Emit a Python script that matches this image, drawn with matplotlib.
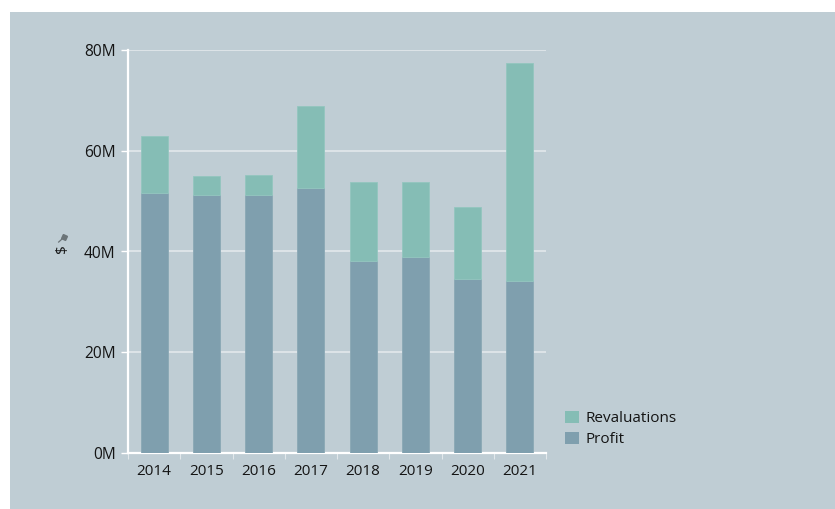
import matplotlib
matplotlib.use("Agg")
import matplotlib.pyplot as plt
from matplotlib.patches import Rectangle, Patch
from matplotlib.ticker import FuncFormatter, MultipleLocator

years = ["2014", "2015", "2016", "2017", "2018", "2019", "2020", "2021"]
profit = [51.6, 51.3, 51.3, 52.6, 38.1, 39.0, 34.6, 34.2]          # $M
revaluations = [11.3, 3.6, 3.9, 16.2, 15.7, 14.7, 14.3, 43.3]      # $M

profit_color = "#7f9fae"
reval_color = "#85bdb5"
panel_color = "#bfcdd4"
text_color = "#141414"

plt.rcParams["font.family"] = ["Open Sans", "DejaVu Sans"]

fig = plt.figure(figsize=(8.35, 5.09), dpi=100)
fig.patch.set_facecolor("white")
fig.add_artist(Rectangle((10 / 835, 0), 1, 1 - 12 / 509, transform=fig.transFigure,
                         facecolor=panel_color, edgecolor="none", zorder=0))

ax = fig.add_axes([128 / 835, 1 - 453 / 509, (546 - 128) / 835, (453 - 50) / 509])
ax.set_facecolor("none")

x = list(range(len(years)))
ax.bar(x, profit, width=0.52, color=profit_color, edgecolor="#8aa8b5",
       linewidth=0.6, zorder=3, label="Profit")
ax.bar(x, revaluations, width=0.52, bottom=profit, color=reval_color,
       edgecolor="#93c6bf", linewidth=0.6, zorder=3, label="Revaluations")

ax.set_xlim(-0.5, len(years) - 0.5)
ax.set_ylim(0, 80)
ax.yaxis.set_major_locator(MultipleLocator(20))
ax.yaxis.set_major_formatter(FuncFormatter(lambda v, p: f"{v:.0f}M"))
ax.grid(axis="y", color="white", alpha=0.55, linewidth=1.2, zorder=1)
ax.set_axisbelow(True)

ax.set_xticks(x)
ax.set_xticklabels(years)
ax.set_xticks([i - 0.5 for i in range(len(years) + 1)], minor=True)
ax.tick_params(axis="x", which="major", length=0, pad=8, labelsize=11, labelcolor=text_color)
ax.tick_params(axis="x", which="minor", length=4, color="#e2e8eb", width=0.8)
ax.tick_params(axis="y", length=5, color="white", width=1, pad=4, labelsize=11.2,
               labelcolor=text_color)

for side in ("top", "right"):
    ax.spines[side].set_visible(False)
for side in ("left", "bottom"):
    ax.spines[side].set_color("white")
    ax.spines[side].set_linewidth(1.6)

# y axis title with a small pin glyph
fig.text(63 / 835, 1 - 249 / 509, "$", rotation=90, ha="center", va="center",
         fontsize=11, color=text_color)
pin_x, pin_y = 62 / 835, 1 - 239 / 509
fig.add_artist(plt.Line2D([pin_x - 0.004, pin_x], [pin_y - 0.006, pin_y],
                          transform=fig.transFigure, color="#6b7478", lw=0.9))
fig.add_artist(plt.Line2D([pin_x + 0.0025], [pin_y + 0.003], transform=fig.transFigure,
                          marker=(4, 0, 20), markersize=4.5, color="#6b7478",
                          linestyle="none"))

handles = [Patch(facecolor=reval_color, edgecolor="none", label="Revaluations"),
           Patch(facecolor=profit_color, edgecolor="none", label="Profit")]
fig.legend(handles=handles, loc="upper left", bbox_to_anchor=(551 / 835, 1 - 397 / 509),
           frameon=False, fontsize=11, handlelength=0.9, handleheight=0.9,
           handletextpad=0.45, labelspacing=0.35, labelcolor=text_color)

fig.savefig("out.png", dpi=100, facecolor="white")
